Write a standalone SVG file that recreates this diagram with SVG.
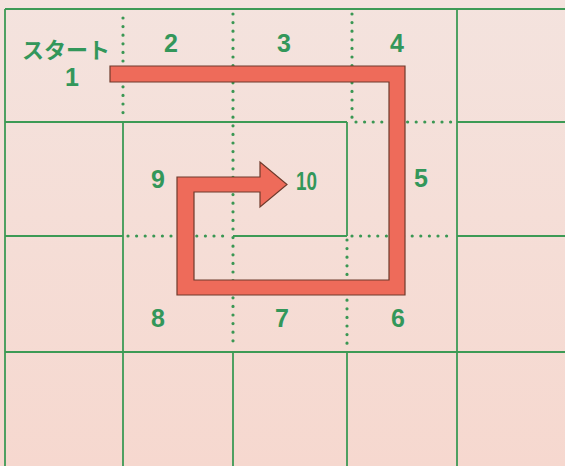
<svg xmlns="http://www.w3.org/2000/svg" width="565" height="466" viewBox="0 0 565 466">
  <style>
    .solid { stroke: #3d9a55; stroke-width: 1.8; fill: none; }
    .dot { stroke: #3a9753; stroke-width: 3.2; stroke-linecap: round; stroke-dasharray: 0 8.6; fill: none; }
    .num { font-family: "Liberation Sans", Arial, sans-serif; font-weight: bold; font-size: 25px; fill: #33975a; text-anchor: middle; }
    .jp { font-family: "Noto Sans CJK JP", "Noto Sans", sans-serif; font-weight: bold; font-size: 22px; fill: #33975a; text-anchor: middle; }
    .arrow { fill: #ee6b5a; stroke: #6e3a2c; stroke-width: 1.2; stroke-linejoin: miter; }
  </style>
  <defs>
    <linearGradient id="bg" x1="0" y1="0" x2="0" y2="1">
      <stop offset="0" stop-color="#f4e3de"/>
      <stop offset="1" stop-color="#f6d8cf"/>
    </linearGradient>
  </defs>
  <rect x="0" y="0" width="565" height="466" fill="url(#bg)"/>

  <g id="grid">
    <g id="solid-lines" class="solid">
      <line x1="5" y1="9" x2="565" y2="9"/>
      <line x1="5" y1="122" x2="347" y2="122"/>
      <line x1="457" y1="122" x2="565" y2="122"/>
      <line x1="5" y1="236" x2="123" y2="236"/>
      <line x1="233" y1="236" x2="347" y2="236"/>
      <line x1="457" y1="236" x2="565" y2="236"/>
      <line x1="5" y1="352" x2="565" y2="352"/>
      <line x1="5" y1="9" x2="5" y2="466"/>
      <line x1="123" y1="122" x2="123" y2="466"/>
      <line x1="233" y1="352" x2="233" y2="466"/>
      <line x1="347" y1="122" x2="347" y2="236"/>
      <line x1="347" y1="352" x2="347" y2="466"/>
      <line x1="457" y1="9" x2="457" y2="466"/>
    </g>
    <g id="dotted-lines" class="dot">
      <line x1="123" y1="18" x2="123" y2="118"/>
      <line x1="233" y1="14" x2="233" y2="348"/>
      <line x1="352" y1="14" x2="352" y2="118"/>
      <line x1="356" y1="122" x2="452" y2="122"/>
      <line x1="128" y1="236" x2="228" y2="236"/>
      <line x1="352" y1="236" x2="452" y2="236"/>
      <line x1="347" y1="240" x2="347" y2="348"/>
    </g>
  </g>

  <g id="connectors">
    <path id="spiral-arrow" class="arrow" d="M110,66 L405,66 L405,295 L177,295 L177,177 L260,177 L260,162 L287,184.5 L260,207 L260,192 L194,192 L194,280 L389,280 L389,82 L110,82 Z"/>
  </g>

  <g id="cell-start"><text class="jp" x="66" y="58">スタート</text><text class="num" x="72" y="86">1</text></g>
  <g id="cell-2"><text class="num" x="171" y="52">2</text></g>
  <g id="cell-3"><text class="num" x="284" y="52">3</text></g>
  <g id="cell-4"><text class="num" x="397" y="52">4</text></g>
  <g id="cell-5"><text class="num" x="421" y="187">5</text></g>
  <g id="cell-6"><text class="num" x="398" y="327">6</text></g>
  <g id="cell-7"><text class="num" x="282" y="327">7</text></g>
  <g id="cell-8"><text class="num" x="158" y="327">8</text></g>
  <g id="cell-9"><text class="num" x="158" y="188">9</text></g>
  <g id="cell-10"><text class="num" x="306.5" y="189.5" font-size="27" textLength="21" lengthAdjust="spacingAndGlyphs">10</text></g>
</svg>
